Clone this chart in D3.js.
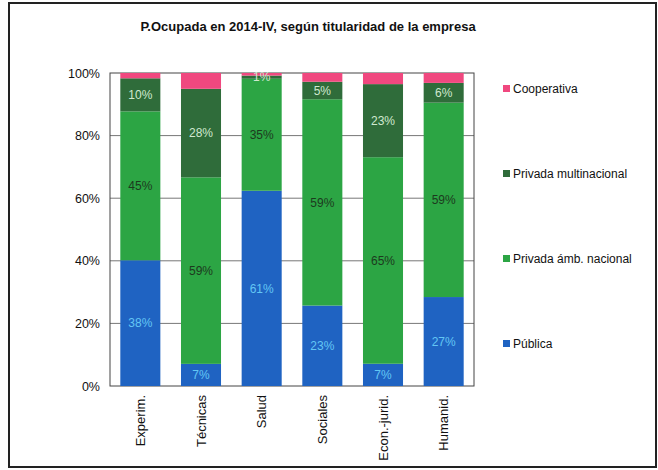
<!DOCTYPE html>
<html>
<head>
<meta charset="utf-8">
<script src="https://cdn.jsdelivr.net/npm/d3@7"></script>
<style>
  body { margin: 0; background: #fff; }
  svg { font-family: "Liberation Sans", Arial, sans-serif; }
</style>
</head>
<body>
<div id="chart"></div>
<script>
// categories and series (shares in %, stacked and normalised to 100%)
const categories = ["Experim.", "Técnicas", "Salud", "Sociales", "Econ.-jurid.", "Humanid."];
const publica = [38, 7, 61, 23, 7, 27];
const nacional = [45, 59, 35, 59, 65, 59];
const multinacional = [10, 28, 1, 5, 23, 6];
const cooperativa = [1.6, 5, 0.8, 2.5, 3.5, 3];
const seriesNames = ["Pública", "Privada ámb. nacional", "Privada multinacional", "Cooperativa"];
const yTicks = [0, 0.2, 0.4, 0.6, 0.8, 1];

const width = 658, height = 470;
const colors = {
  "Pública": "#1f63c2",
  "Privada ámb. nacional": "#2ca544",
  "Privada multinacional": "#2f6c3a",
  "Cooperativa": "#f0487f"
};
const labelColors = {
  "Pública": "#63c6f4",
  "Privada ámb. nacional": "#1c3a1e",
  "Privada multinacional": "#cfe8cf"
};

const rows = categories.map((c, i) => ({
  cat: c,
  "Pública": publica[i],
  "Privada ámb. nacional": nacional[i],
  "Privada multinacional": multinacional[i],
  "Cooperativa": cooperativa[i]
}));

const stacked = d3.stack().keys(seriesNames).offset(d3.stackOffsetExpand)(rows);

const svg = d3.select("#chart").append("svg")
  .attr("width", width).attr("height", height);

// outer frame
svg.append("rect")
  .attr("x", 9).attr("y", 3).attr("width", 647).attr("height", 464)
  .attr("fill", "white").attr("stroke", "#222").attr("stroke-width", 2);

const x = d3.scaleBand().domain(categories).range([110, 474]).paddingInner(0.34).paddingOuter(0.17);
const y = d3.scaleLinear().domain([0, 1]).range([386, 73]);

// gridlines
svg.append("g").selectAll("line").data(yTicks.slice(1, -1)).join("line")
  .attr("x1", 110).attr("x2", 474)
  .attr("y1", d => y(d)).attr("y2", d => y(d))
  .attr("stroke", "#777").attr("stroke-width", 1);

// plot box
svg.append("rect")
  .attr("x", 110).attr("y", y(1)).attr("width", 364).attr("height", y(0) - y(1))
  .attr("fill", "none").attr("stroke", "#444").attr("stroke-width", 1);

// bars
const layer = svg.append("g").selectAll("g").data(stacked).join("g")
  .attr("fill", d => colors[d.key]);
layer.selectAll("rect").data(d => d).join("rect")
  .attr("x", d => x(d.data.cat))
  .attr("width", x.bandwidth())
  .attr("y", d => y(d[1]))
  .attr("height", d => y(d[0]) - y(d[1]));

// segment labels
stacked.filter(s => s.key !== "Cooperativa").forEach(s => {
  svg.append("g").selectAll("text").data(s).join("text")
    .attr("x", d => x(d.data.cat) + x.bandwidth() / 2)
    .attr("y", d => (y(d[0]) + y(d[1])) / 2)
    .attr("dy", "0.35em")
    .attr("text-anchor", "middle")
    .attr("font-size", 12)
    .attr("fill", labelColors[s.key])
    .text(d => d.data[s.key] + "%");
});

// y axis
const yAxis = svg.append("g").attr("transform", "translate(110,0)")
  .call(d3.axisLeft(y).tickValues(yTicks).tickFormat(d3.format(".0%")).tickSize(0).tickPadding(10));
yAxis.select(".domain").remove();
yAxis.selectAll("text").attr("font-size", 12.5).attr("fill", "#111")
  .attr("font-family", "Liberation Sans, Arial, sans-serif");

// x axis labels (rotated)
const xAxis = svg.append("g").attr("transform", "translate(0,386)")
  .call(d3.axisBottom(x).tickSize(0));
xAxis.select(".domain").remove();
xAxis.selectAll("text")
  .attr("font-size", 13).attr("fill", "#111")
  .attr("font-family", "Liberation Sans, Arial, sans-serif")
  .attr("transform", "rotate(-90)")
  .attr("text-anchor", "end")
  .attr("x", -9).attr("y", 0).attr("dy", "0.35em");

// title
svg.append("text")
  .attr("x", 308).attr("y", 31)
  .attr("text-anchor", "middle")
  .attr("font-size", 13).attr("font-weight", "bold").attr("fill", "#111")
  .text("P.Ocupada en 2014-IV, según titularidad de la empresa");

// legend
const legendOrder = ["Cooperativa", "Privada multinacional", "Privada ámb. nacional", "Pública"];
const legend = svg.append("g").selectAll("g").data(legendOrder).join("g")
  .attr("transform", (d, i) => `translate(503,${89 + i * 85})`);
legend.append("rect")
  .attr("x", 0).attr("y", -4).attr("width", 7).attr("height", 7)
  .attr("fill", d => colors[d]);
legend.append("text")
  .attr("x", 10).attr("dy", "0.35em")
  .attr("font-size", 12).attr("fill", "#111")
  .text(d => d);
</script>
</body>
</html>
